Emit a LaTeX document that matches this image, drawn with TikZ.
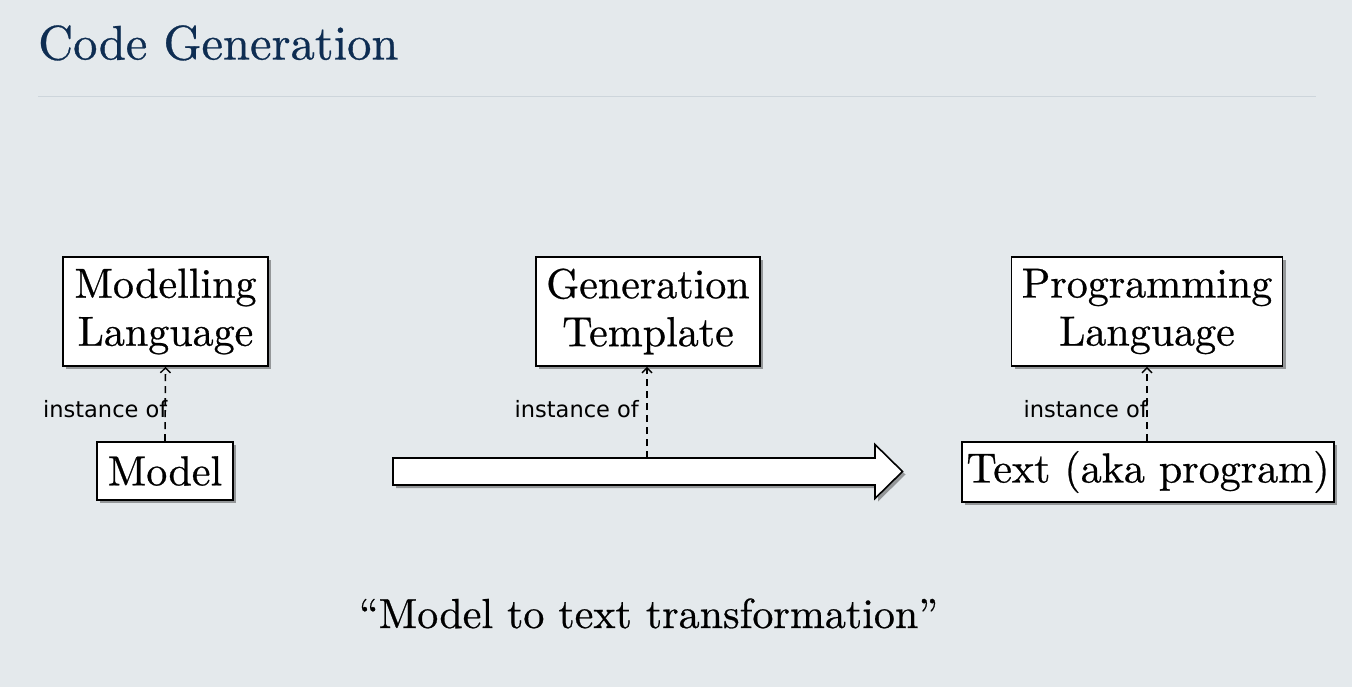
\documentclass[tikz,border=0pt]{standalone}
\usepackage{fontspec}
\setmainfont{lmroman10-regular.otf}[BoldFont=lmroman10-bold.otf, ItalicFont=lmroman10-italic.otf, FakeBold=0.6]
\newfontfamily\labelfont{DejaVu Sans}
\usetikzlibrary{arrows.meta,shadows}
\definecolor{bgcol}{HTML}{E4E9EC}
\definecolor{titlecol}{HTML}{0E2D52}
\definecolor{rulecol}{HTML}{CDD5DB}
\tikzset{
  boxnode/.style={draw=black, line width=1.6pt, fill=white, inner sep=0pt, align=center,
    font=\fontsize{42}{48}\selectfont,
    drop shadow={shadow xshift=3pt, shadow yshift=-3pt, fill=black, opacity=0.35}},
  instarrow/.style={draw=black, line width=1.6pt, dash pattern=on 7pt off 5pt,
    -{Straight Barb[length=5pt,width=10pt,line width=1.4pt]}},
  instlabel/.style={font=\labelfont\fontsize{22.5}{26}\selectfont, anchor=base east, inner sep=0pt},
}
\begin{document}
\begin{tikzpicture}[x=1pt,y=-1pt]
\fill[bgcol] (0,0) rectangle (1352,687);
\useasboundingbox (0,0) rectangle (1352,687);
% title
\node[anchor=base west, inner sep=0pt, text=titlecol, font=\fontsize{48.5}{56}\selectfont] (title) at (38,59.5) {Code Generation};
\draw[rulecol, line width=1pt] (38,96.5) coordinate (r1) -- (1316,96.5) coordinate (r2);
% boxes
\node[boxnode, minimum width=205pt, minimum height=109pt] (ml) at (165.5,311.5) {Modelling\\Language};
\node[boxnode, minimum width=136pt, minimum height=58pt] (model) at (165,471) {Model};
\node[boxnode, minimum width=224pt, minimum height=109pt] (gt) at (648,311.5) {Generation\\Template};
\node[boxnode, minimum width=271pt, minimum height=109pt] (pl) at (1147,311.5) {Programming\\Language};
\node[boxnode, minimum width=372pt, minimum height=60pt] (txt) at (1148,472) {Text (aka program)};
% big arrow
\draw[line width=1.6pt, fill=white, drop shadow={shadow xshift=3pt, shadow yshift=-3pt, fill=black, opacity=0.35}]
  (393,458) -- (875,458) -- (875,444.5) -- (902.5,471.5) -- (875,498.5) -- (875,485) -- (393,485) -- cycle;
\coordinate (gtsrc) at (647,458);
% instance-of connectors
\draw[instarrow] (model.north) -- (ml.south);
\draw[instarrow] (gtsrc) -- (gtsrc |- gt.south);
\draw[instarrow] (pl.south |- txt.north) -- (pl.south);
\node[instlabel] (l1) at (167.5,417) {instance of};
\node[instlabel] (l2) at (639,417) {instance of};
\node[instlabel] (l3) at (1148,417) {instance of};
% caption
\node[anchor=base, inner sep=0pt, font=\fontsize{42}{48}\selectfont] (cap) at (648.5,628) {``Model to text transformation''};
\end{tikzpicture}
\end{document}
